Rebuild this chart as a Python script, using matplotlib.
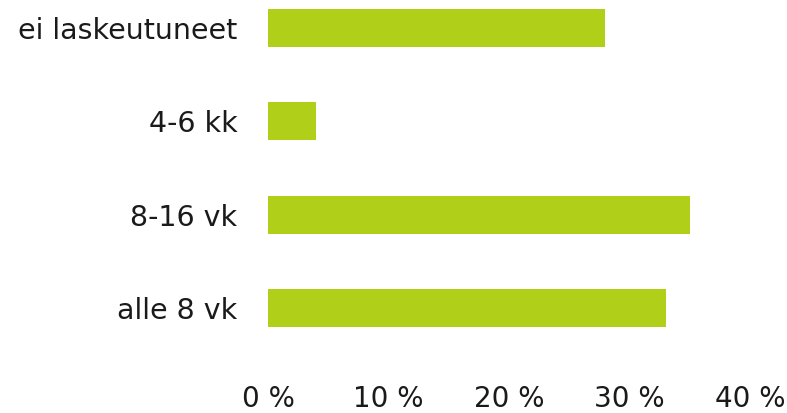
import numpy as np
from matplotlib import pyplot as plt

# Data (bottom to top)
categories = ['alle 8 vk', '8-16 vk', '4-6 kk', 'ei laskeutuneet']
values = [33, 35, 4, 28]
xticks = [0, 10, 20, 30, 40]
xtick_labels = ['0 %', '10 %', '20 %', '30 %', '40 %']

bar_color = '#B0CF18'

plt.rcParams['font.family'] = ['DejaVu Sans']

fig = plt.figure(figsize=(7.87, 4.13), dpi=100)
ax = fig.add_axes([268 / 787, 1 - 354.7 / 413, (750 - 268) / 787, 354.7 / 413])

y = np.arange(len(categories))
ax.barh(y, values, height=0.41, color=bar_color)

ax.set_xlim(0, 40)
ax.set_ylim(-0.5, 3.3)
ax.set_yticks(y)
ax.set_yticklabels(categories, fontsize=20.5, color='#1a1a1a')
ax.set_xticks(xticks)
ax.set_xticklabels(xtick_labels, fontsize=20, color='#1a1a1a')
ax.tick_params(axis='y', length=0, pad=22)
ax.tick_params(axis='x', length=0, pad=22)
for s in ax.spines.values():
    s.set_visible(False)

fig.savefig('out.png', dpi=100)
